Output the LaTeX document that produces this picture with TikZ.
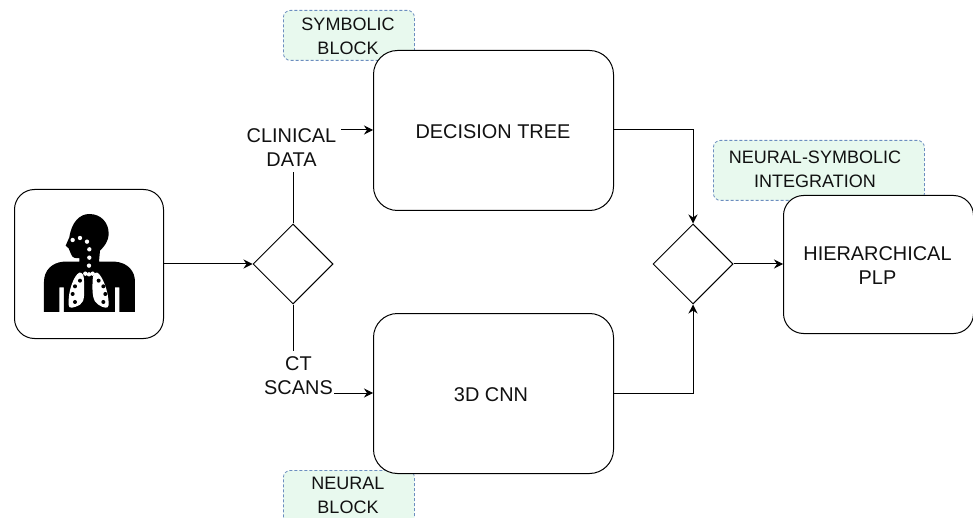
\documentclass[tikz,border=0pt]{standalone}
\usepackage{fontspec}
\setmainfont{Liberation Sans}
\usetikzlibrary{arrows.meta,shapes.geometric}
\definecolor{notefill}{HTML}{E8F9EE}
\definecolor{notedraw}{HTML}{6C8EBF}
\definecolor{ink}{HTML}{111111}
\tikzset{
  lbl/.style={font=\fontsize{19.9}{24}\selectfont,align=center,text=ink,inner sep=0pt},
  notelbl/.style={font=\fontsize{18}{24}\selectfont,align=center,text=ink,inner sep=0pt},
  mainbox/.style={draw=black,line width=1pt,fill=white,rounded corners=24pt,inner sep=0pt,anchor=north west},
  notebox/.style={draw=notedraw,fill=notefill,densely dashed,line width=0.8pt,rounded corners=7pt,inner sep=0pt,anchor=north west},
  gate/.style={diamond,aspect=1,draw=black,line width=1pt,fill=white,inner sep=0pt,minimum width=80pt,minimum height=80pt},
  conn/.style={line width=1pt,draw=black},
  flow/.style={conn,-{Stealth[length=9pt,width=9pt,inset=3pt]}}
}
\begin{document}
\begin{tikzpicture}[x=1pt,y=-1pt]
\useasboundingbox (0,0) rectangle (973,518);
\begin{scope}
\clip (0,0) rectangle (973,518);
\node[notebox,minimum width=131pt,minimum height=50pt] (n1) at (283,10) {};
\node[notelbl] (n1t) at (348,36) {SYMBOLIC\\[0pt]BLOCK};
\node[notebox,minimum width=211pt,minimum height=60pt] (n2) at (713,140) {};
\node[notelbl] (n2t) at (815,169.5) {NEURAL-SYMBOLIC\\[0pt]INTEGRATION};
\node[notebox,minimum width=131pt,minimum height=60pt] (n3) at (283,470) {};
\node[notelbl] (n3t) at (348,495) {NEURAL\\[0pt]BLOCK};
\end{scope}
\node[mainbox,minimum width=149pt,minimum height=149pt,rounded corners=20pt] (pat) at (14,189) {};
\node[mainbox,minimum width=240pt,minimum height=160pt] (dt) at (373,50) {};
\node[mainbox,minimum width=240pt,minimum height=160pt] (cnn) at (373,313) {};
\node[mainbox,minimum width=190pt,minimum height=138pt,rounded corners=20pt] (plp) at (783,195) {};
\node[gate] (g1) at (293,264) {};
\node[gate] (g2) at (693,264) {};
\node[lbl] at (493,132) (dtt) {DECISION TREE};
\node[lbl] at (491,395) (cnnt) {3D CNN};
\node[lbl] at (877.5,266) (plpt) {HIERARCHICAL\\[0pt]PLP};
\node[lbl] at (291.5,148) (cd) {CLINICAL\\[0pt]DATA};
\node[lbl] at (298.5,376) (ct) {CT\\[0pt]SCANS};
\coordinate (cdtop) at (293,172);
\coordinate (ctbot) at (293,351);
\coordinate (cdout) at (341,130);
\coordinate (ctout) at (334,393);
\coordinate (j1) at (693,130);
\coordinate (j2) at (693,393);
\draw[conn] (g1.north) -- (cdtop);
\draw[conn] (g1.south) -- (ctbot);
\draw[flow] (cdout) -- (dt.west |- cdout);
\draw[flow] (ctout) -- (cnn.west |- ctout);
\draw[flow] (pat.east) -- (g1.west);
\draw[flow] (dt.east |- j1) -- (j1) -- (g2.north);
\draw[flow] (cnn.east |- j2) -- (j2) -- (g2.south);
\draw[flow] (g2.east) -- (plp.west |- g2.east);
% patient icon, zoom-space coordinates
\begin{scope}[shift={(0pt,-180pt)},x=0.3333pt,y=-0.3333pt]
\fill[black] (208,172) .. controls (215,125) and (240,102) .. (268,102)
 .. controls (305,102) and (326,130) .. (326,160)
 .. controls (326,185) and (312,200) .. (300,212)
 -- (297,245) -- (345,245) .. controls (385,248) and (405,275) .. (405,305)
 -- (405,396) -- (358,396) -- (358,322) -- (345,322) -- (345,396)
 -- (192,396) -- (192,322) -- (178,322) -- (178,396) -- (132,396) -- (132,305)
 .. controls (132,272) and (155,248) .. (190,245)
 -- (238,245) -- (238,234) .. controls (228,236) and (216,234) .. (213,222)
 -- (206,205) -- (197,197) -- (208,172) -- cycle;
\fill[white] (238,278) .. controls (222,285) and (203,335) .. (206,375) .. controls (206,387) and (220,385) .. (240,374) .. controls (256,364) and (252,340) .. (252,300) .. controls (252,285) and (246,276) .. (238,278) -- cycle;
\fill[white] (292,278) .. controls (306,285) and (327,335) .. (326,375) .. controls (325,387) and (312,385) .. (295,374) .. controls (278,364) and (276,340) .. (278,300) .. controls (278,285) and (284,276) .. (292,278) -- cycle;
\foreach \px/\py in {218/180,240/174,261/185,268/208,268/233,267/257,256/281,267/283,278/281}
  \fill[white] (\px,\py) circle (6.5);
\foreach \px/\py in {240/302,225/319,218/342,225/366,296/302,310/319,316/342,310/366}
  \fill[black] (\px,\py) circle (6);
\end{scope}
\end{tikzpicture}
\end{document}
